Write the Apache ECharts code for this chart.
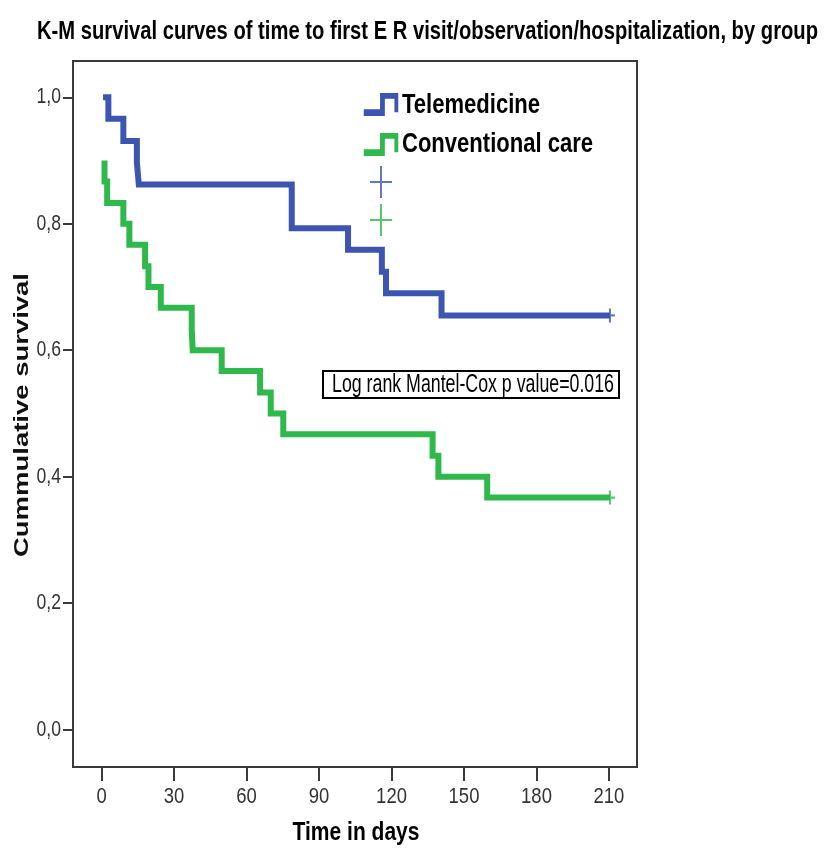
<!DOCTYPE html>
<html>
<head>
<meta charset="utf-8">
<script src="https://cdn.jsdelivr.net/npm/echarts@6/dist/echarts.min.js"></script>
<style>
  html, body { margin: 0; padding: 0; background: #fff; }
  #chart { width: 825px; height: 849px; }
</style>
</head>
<body>
<div id="chart"></div>
<script>
// tick labels
var xTicks = [0, 30, 60, 90, 120, 150, 180, 210];
var yTicks = [0, 0.2, 0.4, 0.6, 0.8, 1.0];

// Telemedicine group (days, cumulative survival)
var teleDays = [0.6, 2.8, 9, 14.6, 15.4, 78.7, 102, 116, 117.7, 140.7, 210.4];
var teleSurv = [1.0, 0.966, 0.931, 0.897, 0.862, 0.793, 0.759, 0.724, 0.690, 0.655, 0.655];

// Conventional care group
var convDays = [1.2, 1.2, 2.3, 9, 11.5, 18, 19.4, 24.5, 37.3, 37.7, 49.7, 65.6, 70, 75.2, 137, 139.4, 159.6, 210.4];
var convSurv = [0.9, 0.867, 0.833, 0.8, 0.767, 0.733, 0.7, 0.667, 0.633, 0.6, 0.567, 0.533, 0.5, 0.467, 0.433, 0.4, 0.367, 0.367];

// censored points
var teleCensorDays = [210.4];
var teleCensorSurv = [0.655];
var convCensorDays = [210.4];
var convCensorSurv = [0.367];

var BLUE = '#3d55b0';
var GREEN = '#2fb84b';
var SANS = '"Liberation Sans", Arial, sans-serif';

function pairs(xs, ys) {
    return xs.map(function (x, i) { return [x, ys[i]]; });
}

// squeeze a text so that it spans the wanted width (the original uses a narrow face)
var measureCtx = document.createElement('canvas').getContext('2d');
function fit(text, font, width) {
    measureCtx.font = font;
    return width / measureCtx.measureText(text).width;
}

var stepIcon = 'path://M0,17L17,17L17,0L36,0L36,20L32,20L32,6L22,6L22,24L0,24Z';
var plusIcon = 'path://M10,0L12,0L12,15L22,15L22,17L12,17L12,32L10,32L10,17L0,17L0,15L10,15Z';
var tickPlus = 'path://M4,0L6,0L6,5L10,5L10,7L6,7L6,12L4,12L4,7L0,7L0,5L4,5Z';

var titleText = 'K-M survival curves of time to first E R visit/observation/hospitalization, by group';
var titleFont = 'bold 26px ' + SANS;
var yNameText = 'Cummulative survival';
var yNameFont = 'bold 21px ' + SANS;
var xNameText = 'Time in days';
var xNameFont = 'bold 26px ' + SANS;
var noteText = 'Log rank Mantel-Cox p value=0.016';
var noteFont = '26px ' + SANS;
var legendFont = 'bold 28px ' + SANS;
var tickFont = '22px ' + SANS;

var myChart = echarts.init(document.getElementById('chart'));
var option = {
    animation: false,
    backgroundColor: '#fff',
    grid: {
        left: 73, right: 188, top: 61, bottom: 82,
        show: true, borderColor: '#3a3a3a', borderWidth: 2, backgroundColor: '#fff'
    },
    legend: [{
        orient: 'vertical',
        left: 363, top: 93, padding: 0,
        itemWidth: 36, itemHeight: 23, itemGap: 17,
        data: [{name: 'Telemedicine', icon: stepIcon}, {name: 'Conventional care', icon: stepIcon}],
        formatter: function () { return ''; },
        textStyle: {fontSize: 8}
    }, {
        orient: 'vertical',
        left: 370, top: 166, padding: 0,
        itemWidth: 22, itemHeight: 32, itemGap: 6,
        data: [{name: 'Telemedicine censored', icon: plusIcon}, {name: 'Conventional care censored', icon: plusIcon}],
        formatter: function () { return ''; },
        textStyle: {fontSize: 8}
    }],
    xAxis: {
        type: 'value',
        min: -11.84, max: 221.6,
        axisLine: {show: true, onZero: false, lineStyle: {color: '#3a3a3a', width: 2}},
        axisTick: {show: true, length: 14, customValues: xTicks, lineStyle: {color: '#3a3a3a', width: 2}},
        axisLabel: {show: false},
        splitLine: {show: false}
    },
    yAxis: {
        type: 'value',
        min: -0.0591, max: 1.0574,
        axisLine: {show: true, onZero: false, lineStyle: {color: '#3a3a3a', width: 2}},
        axisTick: {show: true, length: 10, customValues: yTicks, lineStyle: {color: '#3a3a3a', width: 2}},
        axisLabel: {show: false},
        splitLine: {show: false}
    },
    series: [{
        name: 'Telemedicine',
        type: 'line',
        step: 'end',
        showSymbol: false,
        data: pairs(teleDays, teleSurv),
        itemStyle: {color: BLUE},
        lineStyle: {color: BLUE, width: 6, cap: 'butt', join: 'miter'}
    }, {
        name: 'Conventional care',
        type: 'line',
        step: 'end',
        showSymbol: false,
        data: pairs(convDays, convSurv),
        itemStyle: {color: GREEN},
        lineStyle: {color: GREEN, width: 6, cap: 'butt', join: 'miter'}
    }, {
        name: 'Telemedicine censored',
        type: 'scatter',
        symbol: tickPlus,
        symbolSize: [10, 14],
        data: pairs(teleCensorDays, teleCensorSurv),
        itemStyle: {color: BLUE}
    }, {
        name: 'Conventional care censored',
        type: 'scatter',
        symbol: tickPlus,
        symbolSize: [10, 14],
        data: pairs(convCensorDays, convCensorSurv),
        itemStyle: {color: GREEN}
    }]
};
myChart.setOption(option);

// texts drawn narrow, placed from the axes' own scales
var graphics = [{
    type: 'text', x: 427.5, y: 32,
    scaleX: fit(titleText, titleFont, 781),
    style: {text: titleText, font: titleFont, fill: '#000', align: 'center', verticalAlign: 'middle'}
}, {
    type: 'text', x: 22, y: 415, rotation: Math.PI / 2,
    scaleX: fit(yNameText, yNameFont, 284),
    style: {text: yNameText, font: yNameFont, fill: '#111', align: 'center', verticalAlign: 'middle'}
}, {
    type: 'text', x: 356, y: 833,
    scaleX: fit(xNameText, xNameFont, 127),
    style: {text: xNameText, font: xNameFont, fill: '#000', align: 'center', verticalAlign: 'middle'}
}, {
    type: 'rect',
    shape: {x: 323, y: 371, width: 296, height: 27},
    style: {fill: '#fff', stroke: '#000', lineWidth: 2},
    z: 100
}, {
    type: 'text', x: 473, y: 385,
    scaleX: fit(noteText, noteFont, 282),
    style: {text: noteText, font: noteFont, fill: '#000', align: 'center', verticalAlign: 'middle'},
    z: 101
}, {
    type: 'text', x: 402, y: 105,
    scaleX: fit('Telemedicine', legendFont, 138),
    style: {text: 'Telemedicine', font: legendFont, fill: '#000', align: 'left', verticalAlign: 'middle'}
}, {
    type: 'text', x: 402, y: 144,
    scaleX: fit('Conventional care', legendFont, 191),
    style: {text: 'Conventional care', font: legendFont, fill: '#000', align: 'left', verticalAlign: 'middle'}
}];

var bottomY = myChart.convertToPixel({yAxisIndex: 0}, -0.0591);
xTicks.forEach(function (v) {
    graphics.push({
        type: 'text',
        x: myChart.convertToPixel({xAxisIndex: 0}, v),
        y: bottomY + 30,
        scaleX: 0.84,
        style: {text: String(v), font: tickFont, fill: '#333', align: 'center', verticalAlign: 'middle'}
    });
});
var leftX = myChart.convertToPixel({xAxisIndex: 0}, -11.84);
yTicks.forEach(function (v) {
    graphics.push({
        type: 'text',
        x: leftX - 12,
        y: myChart.convertToPixel({yAxisIndex: 0}, v),
        scaleX: 0.8,
        style: {text: v.toFixed(1).replace('.', ','), font: tickFont, fill: '#333', align: 'right', verticalAlign: 'middle'}
    });
});

myChart.setOption({graphic: graphics});
</script>
</body>
</html>
